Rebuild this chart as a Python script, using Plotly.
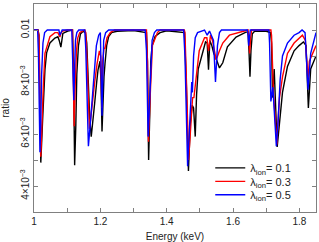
import plotly.graph_objects as go

# ---- data ----
energy_black = [1.000, 1.012, 1.015, 1.018, 1.0205, 1.026, 1.033, 1.038, 1.048, 1.063, 1.072, 1.076, 1.081, 1.084, 1.087, 1.102, 1.114,
                1.116, 1.119, 1.1225, 1.126, 1.129, 1.134, 1.140, 1.148, 1.155,
                1.159, 1.163, 1.168, 1.1725, 1.177, 1.183, 1.189, 1.193, 1.199, 1.202, 1.205, 1.208, 1.211, 1.214, 1.219, 1.225, 1.234, 1.25, 1.30, 1.338,
                1.339, 1.342, 1.3455, 1.349, 1.352, 1.356, 1.365, 1.380, 1.40, 1.4535,
                1.459, 1.4655, 1.471, 1.477, 1.481, 1.486, 1.490, 1.495, 1.505, 1.517, 1.522, 1.526, 1.530, 1.536, 1.542, 1.549, 1.559, 1.569, 1.583, 1.609, 1.639,
                1.645, 1.648, 1.651, 1.654, 1.658, 1.665, 1.70, 1.713,
                1.716, 1.719, 1.724, 1.733, 1.739, 1.749, 1.764, 1.784, 1.799, 1.812, 1.820, 1.827, 1.834, 1.844, 1.850]
ratio_black = [0.0100, 0.0100, 0.0098, 0.0070, 0.0049, 0.00655, 0.00847, 0.00912, 0.0095, 0.00969, 0.00974, 0.0096, 0.00934, 0.0096, 0.00987, 0.00996, 0.0100,
               0.0100, 0.0085, 0.0048, 0.0063, 0.0083, 0.0094, 0.00985, 0.00995, 0.0099,
               0.0095, 0.0080, 0.0066, 0.0059, 0.0064, 0.0072, 0.0080, 0.00847, 0.0088, 0.0080, 0.0061, 0.0075, 0.0082, 0.0087, 0.0094, 0.00975, 0.0099, 0.00995, 0.00998, 0.0099,
               0.0099, 0.0088, 0.0050, 0.0068, 0.0088, 0.0094, 0.00975, 0.0099, 0.00997, 0.0099,
               0.0080, 0.00458, 0.0064, 0.0071, 0.0070, 0.0059, 0.0075, 0.0085, 0.0090, 0.00954, 0.0095, 0.00847, 0.0096, 0.0094, 0.0091, 0.0089, 0.00854, 0.00874, 0.00935, 0.00973, 0.00992,
               0.00992, 0.0092, 0.0082, 0.0092, 0.00985, 0.00995, 0.00995, 0.0099,
               0.0095, 0.0074, 0.0085, 0.0055, 0.0063, 0.0076, 0.0086, 0.0092, 0.0094, 0.00954, 0.0094, 0.0070, 0.0085, 0.00885, 0.0090]

energy_red = [1.000, 1.012, 1.015, 1.018, 1.0205, 1.028, 1.033, 1.048, 1.063, 1.072, 1.078, 1.082, 1.087, 1.10, 1.114,
              1.116, 1.118, 1.121, 1.124, 1.128, 1.132, 1.138, 1.153,
              1.156, 1.160, 1.164, 1.167, 1.171, 1.177, 1.183, 1.190, 1.197, 1.201, 1.2045, 1.207, 1.211, 1.214, 1.220, 1.230, 1.243, 1.337,
              1.339, 1.342, 1.345, 1.351, 1.357, 1.372, 1.38, 1.453,
              1.455, 1.460, 1.466, 1.474, 1.478, 1.482, 1.489, 1.498, 1.514, 1.521, 1.526, 1.532, 1.538, 1.549, 1.559, 1.569, 1.589, 1.628,
              1.645, 1.648, 1.650, 1.653, 1.656, 1.70, 1.714,
              1.716, 1.719, 1.722, 1.726, 1.732, 1.736, 1.740, 1.749, 1.764, 1.784, 1.799, 1.809, 1.818, 1.826, 1.830, 1.839, 1.846, 1.850]
ratio_red = [0.0100, 0.0100, 0.0098, 0.0070, 0.00513, 0.0078, 0.0091, 0.00974, 0.0099, 0.0099, 0.00973, 0.0099, 0.00996, 0.0100, 0.0100,
             0.0100, 0.0085, 0.0063, 0.0078, 0.0092, 0.0097, 0.0099, 0.0100,
             0.0099, 0.0088, 0.0070, 0.0062, 0.0066, 0.0074, 0.0080, 0.0087, 0.0092, 0.0090, 0.0070, 0.0088, 0.0093, 0.0093, 0.0097, 0.0099, 0.0100, 0.0100,
             0.0100, 0.0088, 0.0057, 0.0077, 0.0094, 0.0099, 0.0100, 0.0100,
             0.0099, 0.0078, 0.0050, 0.0066, 0.0074, 0.0074, 0.0083, 0.0092, 0.0097, 0.0097, 0.0092, 0.0098, 0.0096, 0.00885, 0.0092, 0.0095, 0.0098, 0.00996,
             0.0100, 0.0097, 0.0091, 0.0097, 0.0100, 0.0100, 0.0100,
             0.0098, 0.0080, 0.0075, 0.0068, 0.0056, 0.0066, 0.0074, 0.0082, 0.0091, 0.0095, 0.0097, 0.0098, 0.0096, 0.0081, 0.0088, 0.0091, 0.0093, 0.0094]

energy_blue = [1.000, 1.011, 1.0135, 1.016, 1.018, 1.020, 1.023, 1.027, 1.032, 1.040, 1.075, 1.078, 1.081, 1.085, 1.114,
               1.1165, 1.120, 1.1225, 1.125, 1.129, 1.135, 1.151,
               1.153, 1.156, 1.160, 1.164, 1.171, 1.178, 1.188, 1.195, 1.200, 1.205, 1.210, 1.216, 1.225, 1.335,
               1.339, 1.344, 1.351, 1.356, 1.363, 1.37, 1.451,
               1.455, 1.463, 1.4725, 1.4755, 1.4775, 1.481, 1.486, 1.493, 1.514, 1.522, 1.529, 1.541, 1.547, 1.553, 1.559, 1.565, 1.643,
               1.6455, 1.647, 1.649, 1.652, 1.708,
               1.710, 1.714, 1.720, 1.7305, 1.736, 1.742, 1.749, 1.764, 1.784, 1.799, 1.808, 1.817, 1.826, 1.834, 1.846, 1.850]
ratio_blue = [0.0100, 0.0100, 0.0090, 0.0068, 0.0053, 0.0062, 0.0083, 0.0095, 0.0099, 0.0100, 0.0100, 0.0098, 0.0099, 0.0100, 0.0100,
              0.0090, 0.0073, 0.0086, 0.0096, 0.0099, 0.0100, 0.0100,
              0.0100, 0.0093, 0.0075, 0.00553, 0.0066, 0.0078, 0.0094, 0.0098, 0.0099, 0.0067, 0.0096, 0.0099, 0.0100, 0.0100,
              0.0092, 0.0059, 0.0085, 0.0096, 0.0099, 0.0100, 0.0100,
              0.0090, 0.00476, 0.0075, 0.0080, 0.0076, 0.0090, 0.0097, 0.0099, 0.0100, 0.0098, 0.00996, 0.0096, 0.0080, 0.0094, 0.0099, 0.0100, 0.0100,
              0.0098, 0.0094, 0.0098, 0.0100, 0.0100,
              0.0095, 0.00725, 0.0078, 0.00553, 0.00655, 0.0081, 0.0090, 0.0095, 0.0098, 0.0099, 0.0100, 0.0099, 0.0077, 0.0091, 0.0098, 0.0099]

series_names = ["λ<sub>ion</sub>= 0.1", "λ<sub>ion</sub>= 0.3", "λ<sub>ion</sub>= 0.5"]
series_colors = ["#000000", "#ff0000", "#0000ff"]

x_tickvals = [1.0, 1.2, 1.4, 1.6, 1.8]
x_ticktext = ["1", "1.2", "1.4", "1.6", "1.8"]
y_tickvals = [0.004, 0.006, 0.008, 0.01]
y_ticktext = ["4×10<sup>−3</sup>", "6×10<sup>−3</sup>", "8×10<sup>−3</sup>", "0.01"]
y_minor = [0.003, 0.005, 0.007, 0.009, 0.011]
x_minor = [1.1, 1.3, 1.5, 1.7]

legend_ids = ["legend", "legend2", "legend3"]
legend_y = [0.212, 0.147, 0.083]

fig = go.Figure()
for xs, ys, name, col, lid in zip([energy_black, energy_red, energy_blue],
                                  [ratio_black, ratio_red, ratio_blue],
                                  series_names, series_colors, legend_ids):
    fig.add_trace(go.Scatter(x=xs, y=ys, mode="lines", name=name, legend=lid,
                             line=dict(color=col, width=1.4)))

axis_common = dict(showline=True, linecolor="#808080", linewidth=1, mirror="ticks",
                   ticks="inside", ticklen=4, tickcolor="#808080", showgrid=False,
                   zeroline=False, automargin=False,
                   tickfont=dict(size=10, color="#222"))

legend_style = dict(xanchor="left", yanchor="middle", bgcolor="rgba(0,0,0,0)",
                    font=dict(size=11), itemwidth=30, borderwidth=0)

fig.update_layout(
    width=319, height=242,
    margin=dict(l=34, r=3, t=4, b=30, autoexpand=False),
    paper_bgcolor="white", plot_bgcolor="white",
    font=dict(family="Liberation Sans, Arial, sans-serif", size=10, color="#222"),
    showlegend=True,
    legend=dict(x=0.625, y=legend_y[0], **legend_style),
    legend2=dict(x=0.625, y=legend_y[1], **legend_style),
    legend3=dict(x=0.625, y=legend_y[2], **legend_style),
    xaxis=dict(range=[1.0, 1.85], tickvals=x_tickvals, ticktext=x_ticktext,
               title=dict(text="Energy (keV)", font=dict(size=10)),
               minor=dict(tickvals=x_minor, ticks="inside", ticklen=4, tickcolor="#808080"),
               **axis_common),
    yaxis=dict(range=[0.003, 0.011], tickvals=y_tickvals, ticktext=y_ticktext, tickangle=-90,
               title=dict(text="ratio", font=dict(size=10)),
               minor=dict(tickvals=y_minor, ticks="inside", ticklen=4, tickcolor="#808080"),
               **axis_common),
)

fig.write_html("out.html", config={"displayModeBar": False},
               post_script="document.body.style.margin='0';")
